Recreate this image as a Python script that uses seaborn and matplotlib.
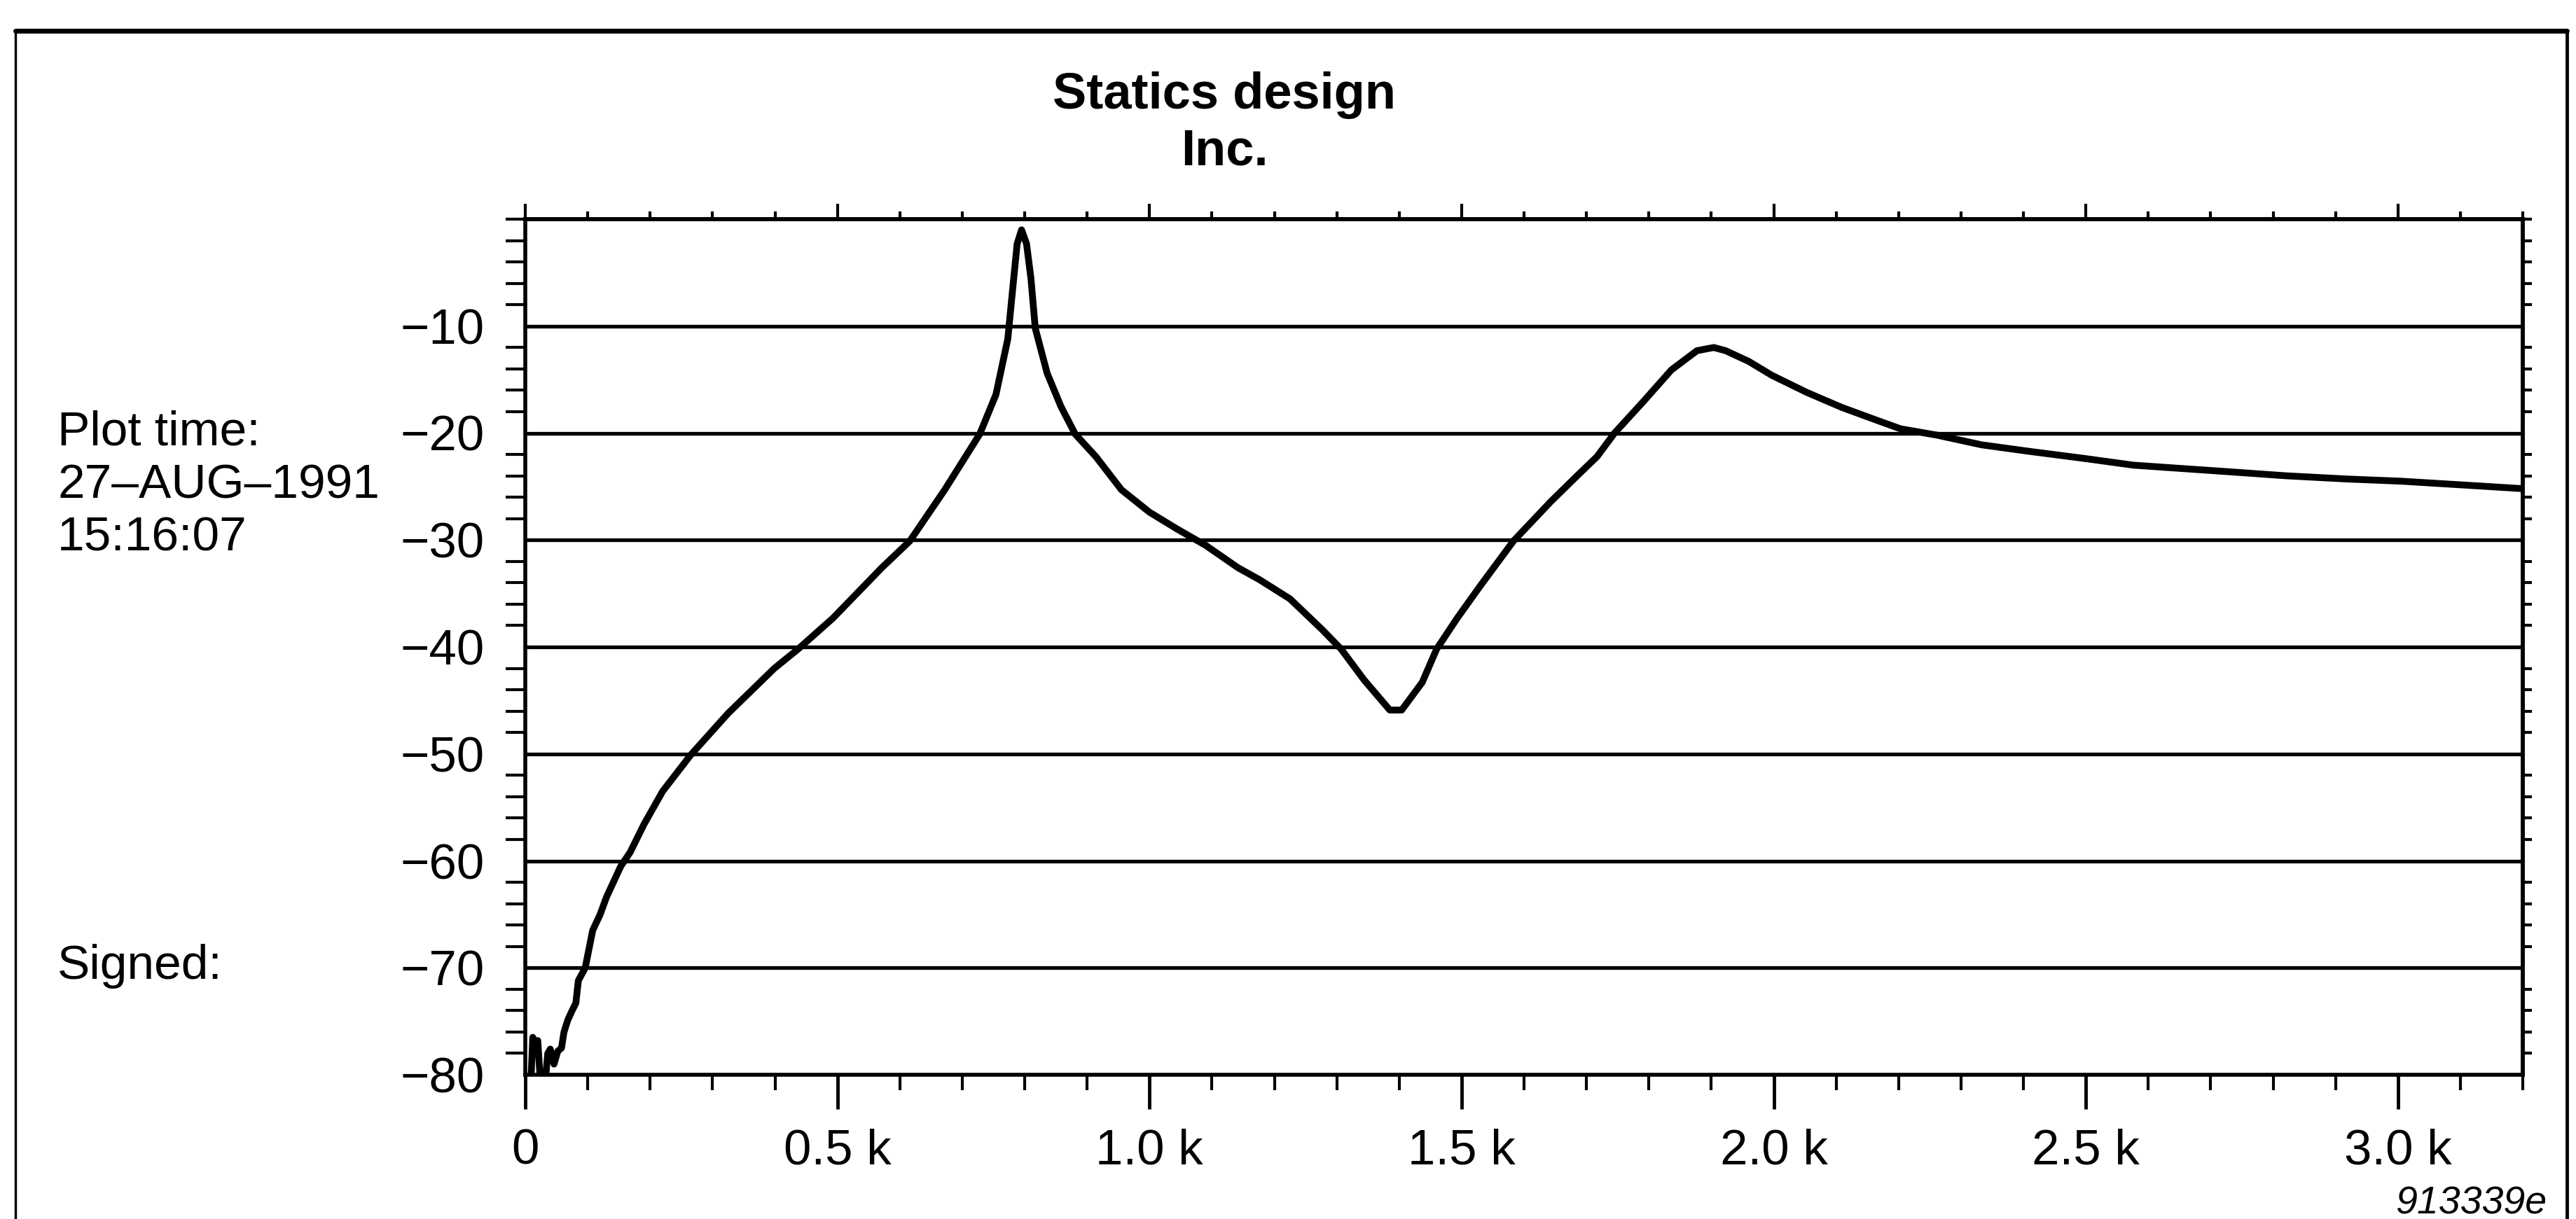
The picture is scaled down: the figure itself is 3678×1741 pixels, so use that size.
import matplotlib
matplotlib.use("Agg")
import matplotlib.pyplot as plt
from matplotlib.ticker import MultipleLocator
from matplotlib.lines import Line2D
import pandas as pd
import seaborn as sns

# ---------------- data ----------------
freq_hz = [0, 8, 12, 16, 20, 24, 30, 36, 40, 46, 52, 58, 62, 68, 75, 81, 85,
           96, 108, 120, 130, 153, 168, 190, 220, 265, 325, 399, 437, 493,
           571, 616, 672, 728, 754, 773, 780, 788, 795, 803, 810, 817, 836,
           858, 881, 914, 955, 1000, 1045, 1090, 1142, 1176, 1225, 1277,
           1307, 1344, 1385, 1404, 1437, 1460, 1493, 1531, 1583, 1643, 1685,
           1717, 1745, 1792, 1836, 1877, 1904, 1923, 1960, 1997, 2053, 2109,
           2165, 2203, 2262, 2333, 2408, 2501, 2576, 2650, 2725, 2822, 2920,
           3005, 3117, 3200]
level_db = [-82, -82, -76.5, -77, -76.8, -80.5, -82, -78, -77.6, -79, -77.8,
            -77.5, -76, -74.9, -74, -73.3, -71.2, -70.0, -66.5, -65, -63.4,
            -60.5, -59.2, -56.6, -53.5, -50.1, -46.2, -42.0, -40.2, -37.3,
            -32.6, -30.1, -25.3, -20.1, -16.4, -11.2, -7.0, -2.3, -1.0, -2.3,
            -5.5, -10.2, -14.4, -17.5, -20.1, -22.2, -25.3, -27.4, -29.0,
            -30.5, -32.6, -33.7, -35.5, -38.4, -40.2, -43.1, -45.9, -45.9,
            -43.3, -40.2, -37.3, -34.2, -30.1, -26.4, -24.0, -22.2, -20.0,
            -17.0, -14.1, -12.3, -12.0, -12.3, -13.3, -14.6, -16.2, -17.6,
            -18.8, -19.6, -20.2, -21.1, -21.7, -22.4, -23.0, -23.3, -23.6,
            -24.0, -24.3, -24.5, -24.9, -25.2]

x_tick_values = [0, 500, 1000, 1500, 2000, 2500, 3000]
x_tick_labels = ["0", "0.5 k", "1.0 k", "1.5 k", "2.0 k", "2.5 k", "3.0 k"]
y_tick_values = [-80, -70, -60, -50, -40, -30, -20, -10]
y_tick_labels = ["\u221280", "\u221270", "\u221260", "\u221250",
                 "\u221240", "\u221230", "\u221220", "\u221210"]
title_lines = ["Statics design", "Inc."]
side_notes = ["Plot time:", "27\u2013AUG\u20131991", "15:16:07"]
signed_note = "Signed:"
figure_code = "913339e"

# ---------------- style ----------------
sns.set_style("white")
plt.rcParams['font.family'] = ['Liberation Sans', 'DejaVu Sans']
plt.rcParams['text.color'] = 'black'
plt.rcParams['xtick.color'] = 'black'
plt.rcParams['ytick.color'] = 'black'
plt.rcParams['xtick.labelcolor'] = 'black'
plt.rcParams['ytick.labelcolor'] = 'black'

W, H = 3678, 1741
fig = plt.figure(figsize=(W / 100, H / 100), dpi=100)
fig.patch.set_facecolor("white")

ax_l, ax_r, ax_t, ax_b = 750, 3602, 313, 1535
ax = fig.add_axes([ax_l / W, 1 - ax_b / H, (ax_r - ax_l) / W, (ax_b - ax_t) / H])

df = pd.DataFrame({"freq": freq_hz, "level": level_db})
sns.lineplot(data=df, x="freq", y="level", ax=ax, color="black",
             linewidth=7, sort=False, estimator=None)

ax.set_xlim(0, 3200)
ax.set_ylim(-80, 0)
ax.set_xlabel("")
ax.set_ylabel("")

for s in ax.spines.values():
    s.set_visible(True)
    s.set_color("black")
    s.set_linewidth(4)

# horizontal grid
ax.set_yticks(y_tick_values)
ax.set_yticklabels(y_tick_labels)
ax.yaxis.set_minor_locator(MultipleLocator(2))
ax.grid(False)
ax.yaxis.grid(True, which="major", color="black", linewidth=3.8)
ax.set_axisbelow(True)

# x ticks (bottom)
ax.set_xticks(x_tick_values)
ax.set_xticklabels(x_tick_labels)
ax.xaxis.set_minor_locator(MultipleLocator(100))
ax.tick_params(axis="x", which="major", direction="out", length=35, width=3.5,
               color="black", pad=20, labelsize=51, labelcolor="black",
               bottom=True, top=False)
ax.tick_params(axis="x", which="minor", direction="out", length=16, width=3,
               color="black", bottom=True, top=False)
ax.tick_params(axis="y", which="major", direction="out", length=0, width=3,
               pad=42, labelsize=51, labelcolor="black", left=True, right=False)
ax.tick_params(axis="y", which="minor", direction="out", length=20, width=3,
               color="black", left=True, right=False)

# top ticks
sec_x = ax.secondary_xaxis("top")
sec_x.set_xticks(x_tick_values)
sec_x.set_xticklabels([""] * len(x_tick_values))
sec_x.xaxis.set_minor_locator(MultipleLocator(100))
sec_x.tick_params(which="major", direction="out", length=16, width=3, color="black")
sec_x.tick_params(which="minor", direction="out", length=8, width=3, color="black")
sec_x.spines["top"].set_linewidth(4)
sec_x.spines["top"].set_color("black")

# right ticks
sec_y = ax.secondary_yaxis("right")
sec_y.set_yticks(y_tick_values)
sec_y.set_yticklabels([""] * len(y_tick_values))
sec_y.yaxis.set_minor_locator(MultipleLocator(2))
sec_y.tick_params(which="major", direction="out", length=0)
sec_y.tick_params(which="minor", direction="out", length=9, width=3, color="black")
sec_y.spines["right"].set_linewidth(4)
sec_y.spines["right"].set_color("black")

# ---------------- texts ----------------
fig.text(1748 / W, 1 - 155 / H, title_lines[0], ha="center", va="baseline",
         fontsize=52, fontweight="bold", color="black")
fig.text(1748 / W, 1 - 236 / H, title_lines[1], ha="center", va="baseline",
         fontsize=52, fontweight="bold", color="black")

note_y = [617, 693, 769]
for txt, yy in zip(side_notes, note_y):
    fig.text(82 / W, 1 - yy / H, txt, ha="left", va="center", fontsize=50,
             color="black")
fig.text(82 / W, 1 - 1380 / H, signed_note, ha="left", va="center",
         fontsize=50, color="black")

fig.text(3636 / W, 1 - 1733 / H, figure_code, ha="right", va="baseline",
         fontsize=40, style="italic", color="black")

# ---------------- outer frame ----------------
fig.add_artist(Line2D([22 / W, 3665 / W], [1 - 44 / H, 1 - 44 / H],
                      transform=fig.transFigure, color="black", linewidth=5))
fig.add_artist(Line2D([22 / W, 22 / W], [1 - 44 / H, 0],
                      transform=fig.transFigure, color="black", linewidth=2.5))
fig.add_artist(Line2D([3665 / W, 3665 / W], [1 - 44 / H, 0],
                      transform=fig.transFigure, color="black", linewidth=3.5))

fig.savefig("out.png", dpi=100, facecolor="white")
